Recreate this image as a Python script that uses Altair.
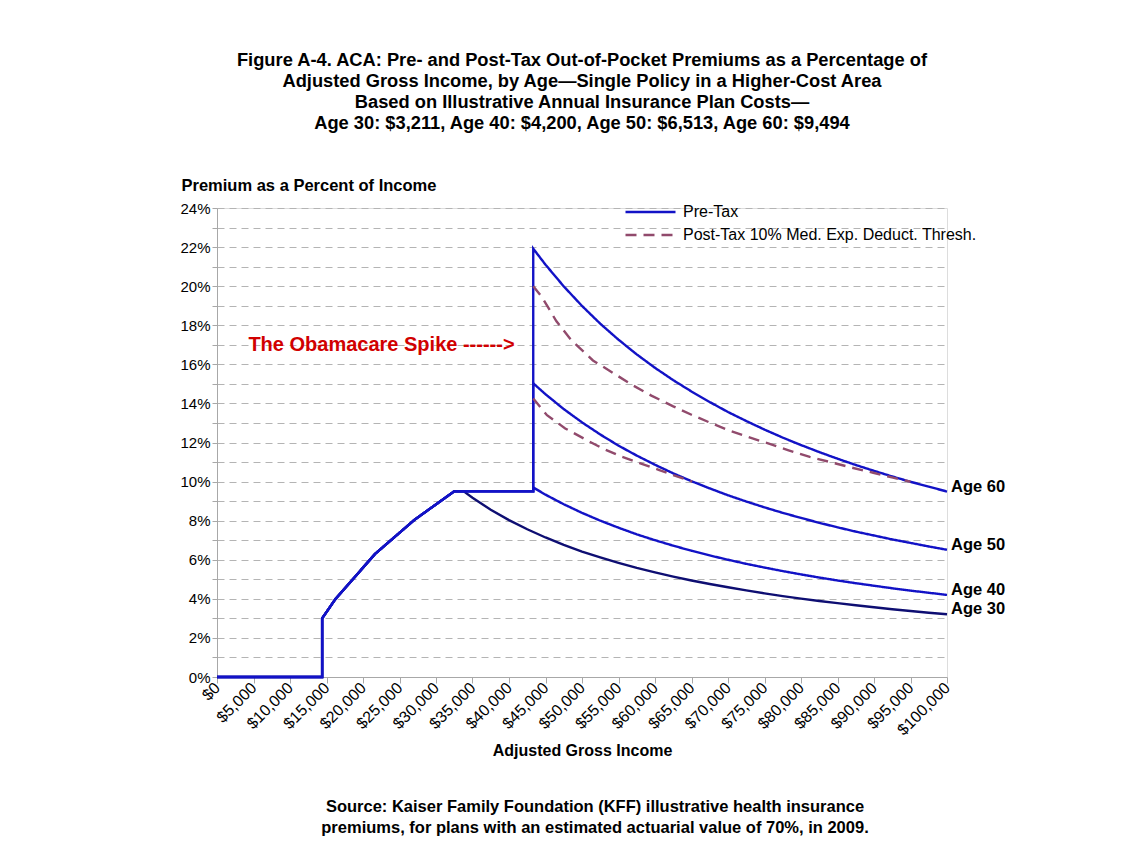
import altair as alt
import pandas as pd

# ---------------- data ----------------
TITLE_LINES = [
    "Figure A-4. ACA: Pre- and Post-Tax Out-of-Pocket Premiums as a Percentage of",
    "Adjusted Gross Income, by Age\u2014Single Policy in a Higher-Cost Area",
    "Based on Illustrative Annual Insurance Plan Costs\u2014",
    "Age 30: $3,211, Age 40: $4,200, Age 50: $6,513, Age 60: $9,494",
]
FOOTER_TEXT = ("Source: Kaiser Family Foundation (KFF) illustrative health insurance\n"
               "premiums, for plans with an estimated actuarial value of 70%, in 2009.")
SPIKE_TEXT = "The Obamacare Spike ------>"
SPIKE_X = 4300
SPIKE_Y = 17.0

TYPES = ["Pre-Tax", "Post-Tax 10% Med. Exp. Deduct. Thresh."]

X_TICKS = list(range(0, 100001, 5000))
Y_TICKS = list(range(0, 25))

# common rising segment (all ages)
BASE_INCOME = [0, 14404, 14404, 16245, 21660, 27075, 32490]
BASE_PCT = [0.0, 0.0, 3.0, 4.0, 6.3, 8.05, 9.5]

PLATEAU_END = 43320
CAP = 9.5

AGE30_INCOME = [33800, 35000, 37500, 40000, 42500, 45000, 47500, 50000, 52500, 55000,
                57500, 60000, 62500, 65000, 67500, 70000, 72500, 75000, 77500, 80000,
                82500, 85000, 87500, 90000, 92500, 95000, 97500, 100000]
AGE30_PCT = [9.50, 9.17, 8.56, 8.03, 7.56, 7.14, 6.76, 6.42, 6.12, 5.84,
             5.58, 5.35, 5.14, 4.94, 4.76, 4.59, 4.43, 4.28, 4.14, 4.01,
             3.89, 3.78, 3.67, 3.57, 3.47, 3.38, 3.29, 3.21]

HIGH_INCOME = [43320, 45000, 47500, 50000, 52500, 55000, 57500, 60000, 62500, 65000,
               67500, 70000, 72500, 75000, 77500, 80000, 82500, 85000, 87500, 90000,
               92500, 95000, 97500, 100000]
AGE40_PCT = [9.70, 9.33, 8.84, 8.40, 8.00, 7.64, 7.30, 7.00, 6.72, 6.46,
             6.22, 6.00, 5.79, 5.60, 5.42, 5.25, 5.09, 4.94, 4.80, 4.67,
             4.54, 4.42, 4.31, 4.20]
AGE50_PCT = [15.03, 14.47, 13.71, 13.03, 12.41, 11.84, 11.33, 10.86, 10.42, 10.02,
             9.65, 9.30, 8.98, 8.68, 8.40, 8.14, 7.89, 7.66, 7.44, 7.24,
             7.04, 6.86, 6.68, 6.51]
AGE60_PCT = [21.92, 21.10, 19.99, 18.99, 18.08, 17.26, 16.51, 15.82, 15.19, 14.61,
             14.07, 13.56, 13.10, 12.66, 12.25, 11.87, 11.51, 11.17, 10.85, 10.55,
             10.26, 9.99, 9.74, 9.49]

POST60_INCOME = [43320, 44500, 46500, 48500, 51500, 54500, 57000, 59500, 62500, 65000,
                 67500, 70000, 72800, 75500, 78300, 81200, 84000, 86900, 89900, 92600, 95000]
POST60_PCT = [20.0, 19.45, 18.2, 17.25, 16.2, 15.5, 14.92, 14.4, 13.85, 13.42,
              13.02, 12.64, 12.28, 11.95, 11.6, 11.26, 11.0, 10.72, 10.45, 10.2, 9.99]

POST50_INCOME = [43320, 45200, 47700, 50400, 52900, 55400, 57900, 60500, 62500, 65100]
POST50_PCT = [14.25, 13.4, 12.72, 12.17, 11.68, 11.28, 10.95, 10.6, 10.33, 10.0]

AGE_LABELS = ["Age 60", "Age 50", "Age 40", "Age 30"]
AGE_LABEL_PCT = [AGE60_PCT[-1], AGE50_PCT[-1], AGE40_PCT[-1], AGE30_PCT[-1]]

# ---------------- build tables ----------------
rows = []


def add(series, kind, xs, ys):
    for i, (x, y) in enumerate(zip(xs, ys)):
        rows.append({"series": series, "type": kind, "income": x, "pct": y, "idx": i})


add("Age 30", TYPES[0], BASE_INCOME + AGE30_INCOME, BASE_PCT + AGE30_PCT)
add("Age 40", TYPES[0], BASE_INCOME + [PLATEAU_END] + HIGH_INCOME, BASE_PCT + [CAP] + AGE40_PCT)
add("Age 50", TYPES[0], BASE_INCOME + [PLATEAU_END] + HIGH_INCOME, BASE_PCT + [CAP] + AGE50_PCT)
add("Age 60", TYPES[0], BASE_INCOME + [PLATEAU_END] + HIGH_INCOME, BASE_PCT + [CAP] + AGE60_PCT)
add("Post 50", TYPES[1], POST50_INCOME, POST50_PCT)
add("Post 60", TYPES[1], POST60_INCOME, POST60_PCT)
df = pd.DataFrame(rows)

labels_df = pd.DataFrame({"label": AGE_LABELS, "pct": AGE_LABEL_PCT,
                          "income": [HIGH_INCOME[-1]] * len(AGE_LABELS)})
spike_df = pd.DataFrame({"text": [SPIKE_TEXT], "income": [SPIKE_X], "pct": [SPIKE_Y]})
footer_df = pd.DataFrame({"text": [FOOTER_TEXT]})

FONT = "Liberation Sans, Arial, Helvetica, sans-serif"
BLUE = "#1212c6"
NAVY = "#0e0e72"
MAUVE = "#914a6c"

W, H = 730, 469

x_enc = alt.X(
    "income:Q",
    scale=alt.Scale(domain=[0, 100000], nice=False, zero=True),
    axis=alt.Axis(
        values=X_TICKS, tickCount=len(X_TICKS),
        labelExpr="'$' + format(datum.value, ',')",
        labelAngle=-45, labelAlign="right", labelBaseline="middle",
        labelFont=FONT, labelFontSize=16, labelColor="#000000", labelPadding=2,
        labelOverlap=False, labelBound=False, labelFlush=False,
        grid=False, domainColor="#a8a8a8", tickColor="#a8a8a8", tickSize=6,
        title="Adjusted Gross Income", titleFont=FONT, titleFontSize=16,
        titleFontWeight="bold", titleColor="#000000", titlePadding=5,
    ),
)
y_enc = alt.Y(
    "pct:Q",
    scale=alt.Scale(domain=[0, 24], nice=False),
    axis=alt.Axis(
        values=Y_TICKS, tickCount=len(Y_TICKS),
        labelExpr="datum.value % 2 == 0 ? datum.value + '%' : ''",
        labelFont=FONT, labelFontSize=15, labelColor="#000000", labelPadding=2,
        labelOverlap=False, labelBound=False, labelFlush=False,
        grid=True, gridDash=[7, 5], gridColor="#b4b4b4", gridWidth=1,
        domainColor="#a8a8a8", tickColor="#a8a8a8", tickSize=5,
        title="Premium as a Percent of Income", titleFont=FONT, titleFontSize=16.5,
        titleFontWeight="bold", titleColor="#000000", titleAngle=0, titleAlign="left",
        titleBaseline="middle", titleX=-36, titleY=-23,
    ),
)

legend = alt.Legend(
    title=None, orient="none", legendX=407, legendY=-7, padding=0,
    symbolType="stroke", symbolSize=2500, symbolStrokeWidth=2.5,
    labelFont=FONT, labelFontSize=16, labelColor="#000000", labelOffset=6,
    rowPadding=1, clipHeight=22, labelLimit=400,
)

age30 = alt.Chart(df).transform_filter(alt.datum.series == "Age 30").mark_line(
    color=NAVY, strokeWidth=2.4).encode(order="idx:Q")

others = alt.Chart(df).transform_filter(alt.datum.series != "Age 30").mark_line(
    strokeWidth=2.4).encode(
    color=alt.Color("type:N", scale=alt.Scale(domain=TYPES, range=[BLUE, MAUVE]), legend=legend),
    strokeDash=alt.StrokeDash("type:N", scale=alt.Scale(domain=TYPES, range=[[1, 0], [11, 7]]),
                              legend=legend),
    detail="series:N",
    order="idx:Q",
)

age_text = alt.Chart(labels_df).mark_text(
    align="left", baseline="middle", dx=4, dy=-5, font=FONT, fontSize=16.5,
    fontWeight="bold", color="#000000").encode(text="label:N")

spike = alt.Chart(spike_df).mark_text(
    align="left", baseline="middle", font=FONT, fontSize=20, fontWeight="bold",
    color="#d10000").encode(text="text:N")

footer = alt.Chart(footer_df).mark_text(
    align="center", baseline="middle", font=FONT, fontSize=16.5, fontWeight="bold",
    color="#000000", lineBreak="\n", lineHeight=21).encode(
    x=alt.value(378), y=alt.value(599), text="text:N")

chart = alt.layer(age30, others, age_text, spike, footer).encode(
    x=x_enc, y=y_enc
).properties(
    width=W, height=H,
    title=alt.TitleParams(text=TITLE_LINES, font=FONT, fontSize=18.3, fontWeight="bold",
                          color="#000000", anchor="middle", lineHeight=21, offset=44),
    padding={"left": 209, "top": 200, "right": 180, "bottom": 170},
    autosize=alt.AutoSizeParams(type="none"),
).configure_view(stroke=None).configure_axis(labelOverlap=False).configure(background="#ffffff")

chart.save("out.html", embed_options={"renderer": "svg", "actions": False})
